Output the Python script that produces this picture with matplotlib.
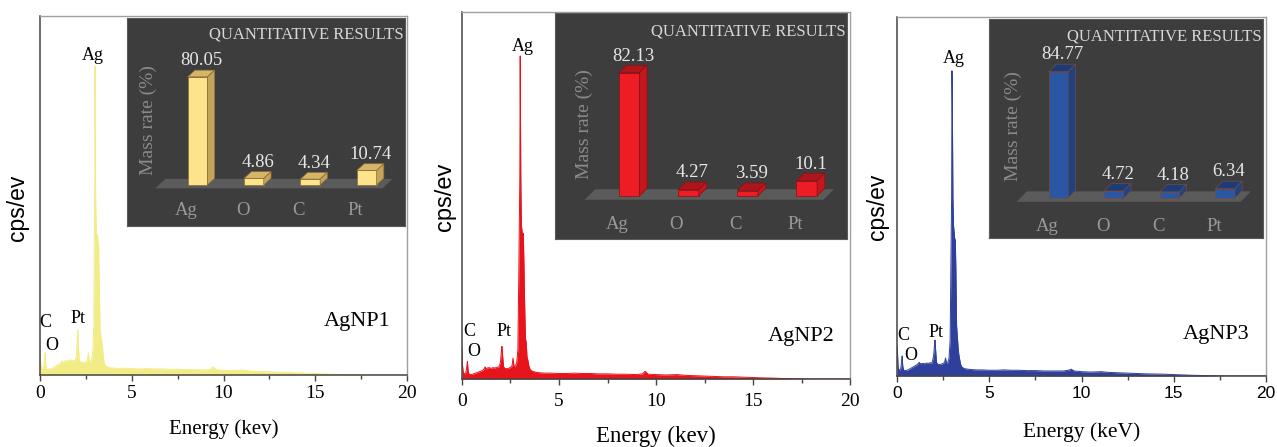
import matplotlib
matplotlib.use("Agg")
import matplotlib.pyplot as plt
from matplotlib.patches import Polygon

# EDS spectra (cps in % of axis height)
energy_kev = [
    0.00, 0.03, 0.06, 0.10, 0.15, 0.20, 0.25, 0.28, 0.31, 0.36,
    0.45, 0.52, 0.60, 0.70, 0.80, 0.90, 1.00, 1.10, 1.20, 1.25,
    1.30, 1.40, 1.50, 1.60, 1.70, 1.80, 1.90, 1.98, 2.03, 2.06,
    2.09, 2.14, 2.20, 2.30, 2.40, 2.50, 2.58, 2.63, 2.68, 2.75,
    2.82, 2.88, 2.93, 2.96, 2.98, 3.00, 3.03, 3.06, 3.10, 3.13,
    3.16, 3.19, 3.23, 3.27, 3.31, 3.35, 3.40, 3.45, 3.52, 3.60,
    3.70, 3.85, 4.00, 4.30, 4.60, 5.00, 5.40, 5.80, 6.20, 6.60,
    7.00, 7.50, 8.00, 8.50, 9.00, 9.30, 9.44, 9.60, 10.00, 10.50,
    11.07, 11.50, 12.00, 12.50, 13.00, 13.50, 14.00, 14.50, 15.00, 15.50,
    16.00, 16.50, 17.00, 17.50, 18.00, 19.00, 20.00,
]

cps_agnp1 = [
    8.0, 4.0, 2.5, 2.0, 1.8, 2.2, 4.5, 6.2, 3.0, 1.6,
    1.5, 1.8, 1.6, 2.0, 2.3, 2.6, 2.9, 3.2, 3.9, 3.3,
    3.6, 4.0, 3.8, 4.2, 4.1, 4.0, 3.9, 5.0, 10.0, 12.5,
    8.0, 4.2, 3.6, 3.5, 3.4, 3.6, 4.0, 6.2, 3.8, 3.6,
    4.5, 7.0, 14.0, 38.0, 50.0, 86.0, 50.0, 40.0, 38.0, 39.0,
    37.0, 36.0, 25.0, 13.0, 11.0, 10.0, 8.0, 5.0, 3.0, 2.4,
    2.2, 2.0, 1.9, 1.8, 1.9, 1.8, 1.7, 1.8, 1.7, 1.7,
    1.6, 1.6, 1.5, 1.5, 1.4, 1.6, 2.3, 1.5, 1.3, 1.3,
    1.4, 1.1, 1.0, 0.9, 0.8, 0.7, 0.6, 0.5, 0.4, 0.3,
    0.2, 0.15, 0.1, 0.05, 0.0, 0.0, 0.0,
]

cps_agnp2 = [
    8.4, 3.5, 2.0, 1.5, 1.4, 1.8, 3.5, 4.8, 2.5, 1.3,
    1.2, 1.3, 1.4, 1.6, 1.8, 2.0, 2.2, 2.5, 3.3, 2.6,
    3.0, 3.1, 2.9, 3.1, 3.0, 3.2, 3.3, 4.5, 7.5, 8.9,
    6.5, 3.4, 2.9, 2.8, 2.9, 3.2, 3.6, 5.7, 3.4, 3.5,
    4.5, 8.0, 30.0, 45.0, 55.0, 88.0, 55.0, 42.0, 40.0, 39.0,
    39.7, 32.0, 20.0, 11.0, 10.0, 6.0, 5.0, 3.5, 2.5, 2.2,
    2.0, 1.8, 1.7, 1.6, 1.6, 1.5, 1.5, 1.6, 1.5, 1.5,
    1.4, 1.4, 1.3, 1.3, 1.2, 1.4, 2.1, 1.3, 1.2, 1.1,
    1.2, 1.0, 0.9, 0.8, 0.7, 0.6, 0.6, 0.5, 0.4, 0.3,
    0.25, 0.15, 0.1, 0.05, 0.0, 0.0, 0.0,
]

cps_agnp3 = [
    8.4, 6.0, 2.5, 1.8, 1.6, 2.0, 4.0, 5.6, 2.8, 1.6,
    1.5, 1.6, 1.7, 2.0, 2.3, 2.6, 2.9, 3.2, 3.8, 3.5,
    3.4, 3.5, 3.4, 3.6, 3.5, 3.7, 3.6, 5.5, 8.5, 10.0,
    7.5, 3.8, 3.3, 3.2, 3.3, 3.5, 3.8, 5.0, 3.6, 3.7,
    5.0, 10.0, 35.0, 50.0, 85.0, 76.0, 50.0, 42.0, 40.0, 38.0,
    38.0, 30.0, 14.0, 11.0, 8.0, 6.0, 4.5, 3.2, 2.5, 2.2,
    2.0, 1.9, 1.8, 1.7, 1.7, 1.6, 1.6, 1.7, 1.6, 1.6,
    1.5, 1.5, 1.4, 1.4, 1.4, 1.6, 1.9, 1.4, 1.2, 1.1,
    1.2, 1.0, 0.9, 0.8, 0.7, 0.6, 0.55, 0.5, 0.4, 0.3,
    0.2, 0.15, 0.1, 0.05, 0.0, 0.0, 0.0,
]

energy_ticks = [0, 5, 10, 15, 20]
energy_minor = [2.5, 7.5, 12.5, 17.5]

# quantitative results (inset bars)
elements = ["Ag", "O", "C", "Pt"]
mass_agnp1 = [80.05, 4.86, 4.34, 10.74]
mass_agnp2 = [82.13, 4.27, 3.59, 10.1]
mass_agnp3 = [84.77, 4.72, 4.18, 6.34]

W, H = 1277, 447
SERIF = "Liberation Serif"
SANS = "Liberation Sans"


def rect(l, t, r, b):
    return [l / W, 1 - b / H, (r - l) / W, (b - t) / H]


panels = [
    dict(name="AgNP1", cps=cps_agnp1, mass=mass_agnp1, color="#f2ec86",
         bar=("#fde38c", "#d4b56a", "#c3a45c", "#8c6c30"),
         box=(40, 16, 407, 375), inset=(127, 18, 405, 226), ylim=(-30.4, 123.7),
         mass_x=0.076, ylab=(18, 208, 16.5), xlab=(429, 15, "Energy (kev)"),
         tickfont=(SERIF, 14, 3),
         peaks={"Ag": (2.89, 89.1), "C": (0.27, 14.5), "O": (0.64, 8.2), "Pt": (2.09, 15.8)},
         tag=(17.3, 14.8)),
    dict(name="AgNP2", cps=cps_agnp2, mass=mass_agnp2, color="#e8141c",
         bar=("#ee1c25", "#b0151b", "#c2171e", "#8a1015"),
         box=(462, 12, 850, 379), inset=(555, 13, 847, 239), ylim=(-28.7, 122.0),
         mass_x=0.10, ylab=(445, 197, 17), xlab=(436, 16.5, "Energy (kev)"),
         tickfont=(SERIF, 14, 6),
         peaks={"Ag": (3.13, 90.5), "C": (0.36, 12.9), "O": (0.58, 7.6), "Pt": (2.18, 12.9)},
         tag=(17.5, 11.5)),
    dict(name="AgNP3", cps=cps_agnp3, mass=mass_agnp3, color="#2f3f9c",
         bar=("#2a56a3", "#1b3c78", "#1e4282", "#7a4a3a"),
         box=(897, 17, 1266, 376), inset=(989, 19, 1263, 238), ylim=(-26.8, 120.1),
         mass_x=0.09, ylab=(878, 207, 16.5), xlab=(432, 15.5, "Energy (keV)"),
         tickfont=(SANS, 12.5, 3),
         peaks={"Ag": (3.06, 88.5), "C": (0.34, 11.3), "O": (0.74, 5.8), "Pt": (2.11, 12.1)},
         tag=(17.3, 11.6)),
]

fig = plt.figure(figsize=(W / 100, H / 100), dpi=100)

for p in panels:
    ax = fig.add_axes(rect(*p["box"]))
    ax.fill_between(energy_kev, p["cps"], 0, color=p["color"], lw=0)
    ax.plot(energy_kev, p["cps"], color=p["color"], lw=0.7)
    ax.set_xlim(0, 20)
    ax.set_ylim(0, 100)
    ax.set_yticks([])
    tf, ts, tp = p["tickfont"]
    ax.set_xticks(energy_ticks)
    ax.set_xticklabels([str(v) for v in energy_ticks], fontsize=ts, family=tf)
    ax.set_xticks(energy_minor, minor=True)
    ax.tick_params(axis="x", which="major", direction="out", length=4, width=1,
                   color="#444444", pad=tp)
    ax.tick_params(axis="x", which="minor", direction="out", length=3, width=1, color="#444444")
    for s in ("left", "bottom"):
        ax.spines[s].set_color("#444444")
        ax.spines[s].set_linewidth(1.1)
    for s in ("top", "right"):
        ax.spines[s].set_color("#a0a0a0")
        ax.spines[s].set_linewidth(1.0)

    for el, (x, y) in p["peaks"].items():
        ax.text(x, y, el, ha="center", va="center", fontsize=13, family=SERIF)
    ax.text(p["tag"][0], p["tag"][1], p["name"], ha="center", va="center", fontsize=16, family=SERIF)

    l, t, r, b = p["box"]
    yx, yy, ys = p["ylab"]
    fig.text(yx / W, 1 - yy / H, "cps/ev", rotation=90, ha="center", va="center",
             fontsize=ys, family=SANS)
    xy, xs, xt = p["xlab"]
    fig.text((l + r) / 2 / W, 1 - xy / H, xt, ha="center", va="center", fontsize=xs, family=SERIF)

    # inset with pseudo-3D bars
    ins = fig.add_axes(rect(*p["inset"]))
    ins.set_facecolor("#3d3d3d")
    ins.set_xlim(-1.25, 3.68)
    ins.set_ylim(*p["ylim"])
    ins.set_xticks([])
    ins.set_yticks([])
    for s in ins.spines.values():
        s.set_color("#5a5a5a")
        s.set_linewidth(0.8)

    w, dx, dy = 0.35, 0.13, 5.0
    ins.add_patch(Polygon([(-0.75, -2.5), (3.28, -2.5), (3.46, 4.5), (-0.57, 4.5)],
                          fc="#5b5b5b", ec="none", zorder=1))
    face, top, side, edge = p["bar"]
    for i, v in enumerate(p["mass"]):
        x0, x1 = i - w / 2, i + w / 2
        ins.bar(i, v, width=w, color=face, edgecolor=edge, lw=0.5, zorder=3)
        ins.add_patch(Polygon([(x0, v), (x1, v), (x1 + dx, v + dy), (x0 + dx, v + dy)],
                              fc=top, ec=edge, lw=0.5, zorder=3))
        ins.add_patch(Polygon([(x1, 0), (x1 + dx, dy), (x1 + dx, v + dy), (x1, v)],
                              fc=side, ec=edge, lw=0.5, zorder=3))
        ins.text(i + dx / 2, v + dy + 0.5, f"{v:g}", ha="center", va="bottom",
                 fontsize=13.5, color="#e6e6e6", family=SERIF)
        ins.text(i - 0.2, -19, elements[i], ha="center", va="center",
                 fontsize=13.5, color="#9a9a9a", family=SERIF)

    ins.text(0.995, 0.92, "QUANTITATIVE RESULTS", transform=ins.transAxes, ha="right",
             va="center", fontsize=12, color="#d8d8d8", family=SERIF)
    ins.text(p["mass_x"], 0.51, "Mass rate (%)", transform=ins.transAxes, rotation=90,
             ha="center", va="center", fontsize=14, color="#8a8a8a", family=SERIF)

fig.savefig("out.png", dpi=100)
